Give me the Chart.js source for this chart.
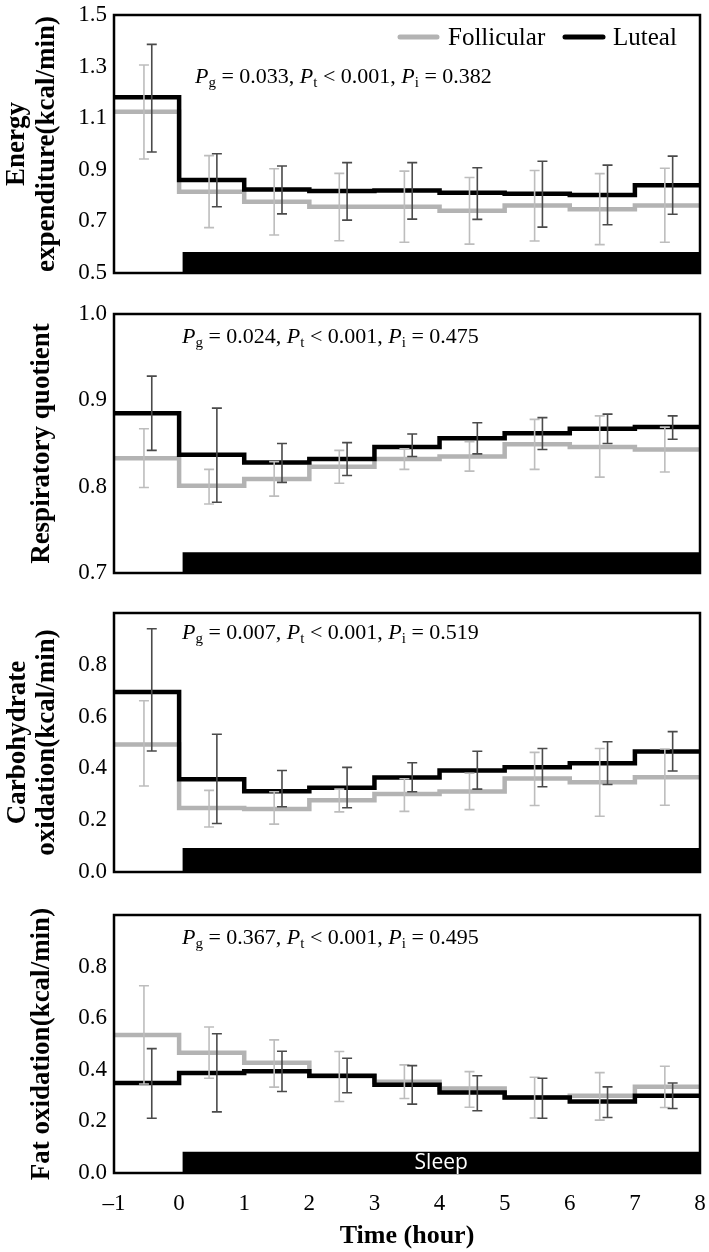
<!DOCTYPE html>
<html>
<head>
<meta charset="utf-8">
<script src="https://cdn.jsdelivr.net/npm/chart.js@4.4.1/dist/chart.umd.min.js"></script>
<style>
  html, body { margin: 0; padding: 0; background: #fff; }
  #wrap { position: relative; width: 709px; height: 1252px; }
  .panel { position: absolute; left: 0; width: 709px; }
</style>
</head>
<body>
<div id="wrap">
  <div class="panel" style="top:0px;height:290px"><canvas id="c1" width="709" height="290"></canvas></div>
  <div class="panel" style="top:290px;height:300px"><canvas id="c2" width="709" height="300"></canvas></div>
  <div class="panel" style="top:590px;height:310px"><canvas id="c3" width="709" height="310"></canvas></div>
  <div class="panel" style="top:900px;height:352px"><canvas id="c4" width="709" height="352"></canvas></div>
</div>
<script>
// hour bins: each value holds from its hour to the next one
const hours = [-1, 0, 1, 2, 3, 4, 5, 6, 7];
const xTickLabels = ['\u20131', '0', '1', '2', '3', '4', '5', '6', '7', '8'];
const seriesNames = ['Follicular', 'Luteal'];
const sleepStart = 0.05, sleepEnd = 8;

// energy expenditure (kcal/min)
const eeFol   = [1.125, 0.815, 0.776, 0.757, 0.757, 0.741, 0.762, 0.747, 0.762];
const eeLut   = [1.181, 0.860, 0.824, 0.818, 0.820, 0.811, 0.807, 0.802, 0.840];
const eeFolHi = [1.306, 0.955, 0.904, 0.886, 0.895, 0.870, 0.897, 0.885, 0.906];
const eeFolLo = [0.942, 0.676, 0.647, 0.625, 0.619, 0.612, 0.624, 0.610, 0.619];
const eeLutHi = [1.386, 0.962, 0.915, 0.928, 0.928, 0.908, 0.933, 0.918, 0.953];
const eeLutLo = [0.969, 0.757, 0.729, 0.705, 0.709, 0.708, 0.678, 0.687, 0.728];

// respiratory quotient
const rqFol   = [0.833, 0.801, 0.809, 0.823, 0.832, 0.835, 0.849, 0.846, 0.843];
const rqLut   = [0.885, 0.837, 0.828, 0.832, 0.846, 0.856, 0.862, 0.867, 0.869];
const rqFolHi = [0.867, 0.820, 0.829, 0.842, 0.844, 0.852, 0.878, 0.882, 0.869];
const rqFolLo = [0.799, 0.780, 0.789, 0.804, 0.820, 0.818, 0.820, 0.811, 0.817];
const rqLutHi = [0.928, 0.891, 0.850, 0.851, 0.861, 0.874, 0.880, 0.884, 0.882];
const rqLutLo = [0.842, 0.782, 0.805, 0.813, 0.835, 0.838, 0.843, 0.850, 0.855];

// carbohydrate oxidation (kcal/min)
const choFol   = [0.492, 0.247, 0.243, 0.277, 0.301, 0.311, 0.361, 0.347, 0.366];
const choLut   = [0.695, 0.358, 0.312, 0.325, 0.365, 0.392, 0.404, 0.420, 0.465];
const choFolHi = [0.661, 0.315, 0.310, 0.320, 0.360, 0.381, 0.462, 0.477, 0.475];
const choFolLo = [0.332, 0.174, 0.185, 0.232, 0.234, 0.241, 0.257, 0.215, 0.258];
const choLutHi = [0.939, 0.532, 0.392, 0.404, 0.422, 0.466, 0.477, 0.503, 0.542];
const choLutLo = [0.467, 0.187, 0.252, 0.248, 0.310, 0.320, 0.329, 0.338, 0.390];

// fat oxidation (kcal/min)
const fatFol   = [0.535, 0.466, 0.427, 0.375, 0.354, 0.328, 0.293, 0.299, 0.334];
const fatLut   = [0.349, 0.388, 0.394, 0.377, 0.342, 0.312, 0.293, 0.277, 0.299];
const fatFolHi = [0.726, 0.566, 0.516, 0.471, 0.419, 0.393, 0.371, 0.389, 0.414];
const fatFolLo = [0.345, 0.367, 0.333, 0.277, 0.289, 0.255, 0.213, 0.205, 0.254];
const fatLutHi = [0.482, 0.540, 0.472, 0.445, 0.416, 0.377, 0.367, 0.334, 0.349];
const fatLutLo = [0.212, 0.237, 0.316, 0.311, 0.267, 0.241, 0.212, 0.215, 0.250];

// P values per panel
const pGroup = ['0.033', '0.024', '0.007', '0.367'];
const pTime  = ['0.001', '0.001', '0.001', '0.001'];
const pInter = ['0.382', '0.475', '0.519', '0.495'];

const SERIF = '"Liberation Serif", "Times New Roman", serif';
const GREY = '#b3b3b3', BLACK = '#000';
const GREY_BAR = '#bdbdbd', BLACK_BAR = '#4a4a4a';

function stepPoints(vals) {
  const pts = hours.map((h, i) => ({ x: h, y: vals[i] }));
  pts.push({ x: 8, y: vals[vals.length - 1] });
  return pts;
}

function drawRich(ctx, x, y, parts, size) {
  parts.forEach(p => {
    const fs = p.sub ? Math.round(size * 0.66) : size;
    ctx.font = (p.it ? 'italic ' : '') + fs + 'px ' + SERIF;
    ctx.fillText(p.t, x, y + (p.sub ? size * 0.28 : 0));
    x += ctx.measureText(p.t).width;
  });
}

const panels = [
  { id: 'c1', pad: { top: 15, bottom: 17 }, min: 0.5, max: 1.5, step: 0.2, hideTop: false,
    title: ['Energy', 'expenditure(kcal/min)'], titleLH: 1.1, titlePad: 2,
    fol: eeFol, lut: eeLut, folHi: eeFolHi, folLo: eeFolLo, lutHi: eeLutHi, lutLo: eeLutLo,
    sleepTop: 0.581, pX: 195, pY: 77, legend: true },
  { id: 'c2', pad: { top: 24, bottom: 17 }, min: 0.7, max: 1.0, step: 0.1, hideTop: false,
    title: 'Respiratory quotient', titleLH: 1.22, titlePad: 26,
    fol: rqFol, lut: rqLut, folHi: rqFolHi, folLo: rqFolLo, lutHi: rqLutHi, lutLo: rqLutLo,
    sleepTop: 0.724, pX: 182, pY: 47 },
  { id: 'c3', pad: { top: 23, bottom: 28 }, min: 0, max: 1.0, step: 0.2, hideTop: true,
    title: ['Carbohydrate', 'oxidation(kcal/min)'], titleLH: 1.08, titlePad: 3,
    fol: choFol, lut: choLut, folHi: choFolHi, folLo: choFolLo, lutHi: choLutHi, lutLo: choLutLo,
    sleepTop: 0.093, pX: 182, pY: 43 },
  { id: 'c4', pad: { top: 15, bottom: 0 }, min: 0, max: 1.0, step: 0.2, hideTop: true,
    title: 'Fat oxidation(kcal/min)', titleLH: 1.22, titlePad: 26,
    fol: fatFol, lut: fatLut, folHi: fatFolHi, folLo: fatFolLo, lutHi: fatLutHi, lutLo: fatLutLo,
    sleepTop: 0.082, pX: 182, pY: 38, xAxis: true, sleepLabel: 'Sleep' }
];

panels.forEach((p, k) => {
  const errorBars = {
    id: 'errorBars',
    afterDatasetsDraw(chart) {
      const { ctx, scales: { x, y } } = chart;
      const sets = [
        { hi: p.folHi, lo: p.folLo, off: 0.46, color: GREY_BAR },
        { hi: p.lutHi, lo: p.lutLo, off: 0.58, color: BLACK_BAR }
      ];
      ctx.save();
      ctx.lineWidth = 1.6;
      sets.forEach(s => {
        ctx.strokeStyle = s.color;
        s.hi.forEach((hi, i) => {
          const px = x.getPixelForValue(hours[i] + s.off);
          const t = y.getPixelForValue(hi), b = y.getPixelForValue(s.lo[i]);
          ctx.beginPath();
          ctx.moveTo(px, t); ctx.lineTo(px, b);
          ctx.moveTo(px - 5, t); ctx.lineTo(px + 5, t);
          ctx.moveTo(px - 5, b); ctx.lineTo(px + 5, b);
          ctx.stroke();
        });
      });
      ctx.restore();
    }
  };

  const decorations = {
    id: 'decorations',
    afterDraw(chart) {
      const { ctx, chartArea: a, scales: { x, y } } = chart;
      ctx.save();
      // frame
      ctx.strokeStyle = '#000';
      ctx.lineWidth = 2.5;
      ctx.strokeRect(a.left, a.top, a.right - a.left, a.bottom - a.top);
      // P values
      ctx.fillStyle = '#000';
      ctx.textBaseline = 'middle';
      ctx.textAlign = 'left';
      drawRich(ctx, p.pX, p.pY, [
        { t: 'P', it: true }, { t: 'g', sub: true }, { t: ' = ' + pGroup[k] + ', ' },
        { t: 'P', it: true }, { t: 't', sub: true }, { t: ' < ' + pTime[k] + ', ' },
        { t: 'P', it: true }, { t: 'i', sub: true }, { t: ' = ' + pInter[k] }
      ], 22);
      // legend
      if (p.legend) {
        const items = [
          { label: seriesNames[0], color: GREY, x0: 400, x1: 437, tx: 448 },
          { label: seriesNames[1], color: BLACK, x0: 565, x1: 603, tx: 613 }
        ];
        ctx.font = '25px ' + SERIF;
        items.forEach(it => {
          ctx.strokeStyle = it.color;
          ctx.lineWidth = 5;
          ctx.lineCap = 'round';
          ctx.beginPath(); ctx.moveTo(it.x0, 37); ctx.lineTo(it.x1, 37); ctx.stroke();
          ctx.fillStyle = '#000';
          ctx.fillText(it.label, it.tx, 38);
        });
      }
      // sleep label
      if (p.sleepLabel) {
        ctx.fillStyle = '#fff';
        ctx.textAlign = 'center';
        ctx.font = '21px "Open Sans", "DejaVu Sans", sans-serif';
        ctx.fillText(p.sleepLabel, x.getPixelForValue((sleepStart + sleepEnd) / 2),
          (y.getPixelForValue(p.sleepTop) + y.getPixelForValue(p.min)) / 2 + 1);
      }
      ctx.restore();
    }
  };

  new Chart(document.getElementById(p.id), {
    type: 'line',
    data: {
      datasets: [
        { label: seriesNames[1], data: stepPoints(p.lut), stepped: 'before',
          borderColor: BLACK, borderWidth: 4.5, pointRadius: 0, fill: false },
        { label: seriesNames[0], data: stepPoints(p.fol), stepped: 'before',
          borderColor: GREY, borderWidth: 4.5, pointRadius: 0, fill: false },
        { label: 'Sleep', data: [{ x: sleepStart, y: p.sleepTop }, { x: sleepEnd, y: p.sleepTop }],
          borderWidth: 0, borderColor: BLACK, backgroundColor: BLACK, pointRadius: 0, fill: 'start' }
      ]
    },
    options: {
      responsive: false,
      animation: false,
      events: [],
      layout: { padding: { left: 0, right: 9, top: p.pad.top, bottom: p.pad.bottom } },
      plugins: { legend: { display: false }, tooltip: { enabled: false } },
      scales: {
        x: {
          type: 'linear', min: -1, max: 8,
          display: !!p.xAxis,
          afterFit: s => {
            if (!p.xAxis) { s.height = 0; return; }
            s.height = 79; s.paddingLeft = 0; s.paddingRight = 0;
          },
          grid: { display: false, drawTicks: false },
          border: { display: false },
          ticks: { stepSize: 1, padding: 17, color: '#000', maxRotation: 0,
            font: { family: SERIF, size: 23 },
            callback: (v, i) => xTickLabels[i] },
          title: { display: true, text: 'Time (hour)', color: '#000',
            font: { family: SERIF, size: 26, weight: 'bold', lineHeight: 1.2 },
            padding: { top: 0, bottom: 0 } }
        },
        y: {
          min: p.min, max: p.max,
          afterFit: s => { s.width = 114; s.paddingTop = 0; s.paddingBottom = 0; },
          grid: { display: false, drawTicks: false },
          border: { display: false },
          ticks: { stepSize: p.step, padding: 7, color: '#000',
            font: { family: SERIF, size: 23 },
            callback: v => (p.hideTop && v > p.max - 1e-6) ? '' : Number(v).toFixed(1) },
          title: { display: true, text: p.title, color: '#000',
            font: { family: SERIF, size: 27, weight: 'bold', lineHeight: p.titleLH },
            padding: { top: p.titlePad, bottom: 0 } }
        }
      }
    },
    plugins: [errorBars, decorations]
  });
});
</script>
</body>
</html>
